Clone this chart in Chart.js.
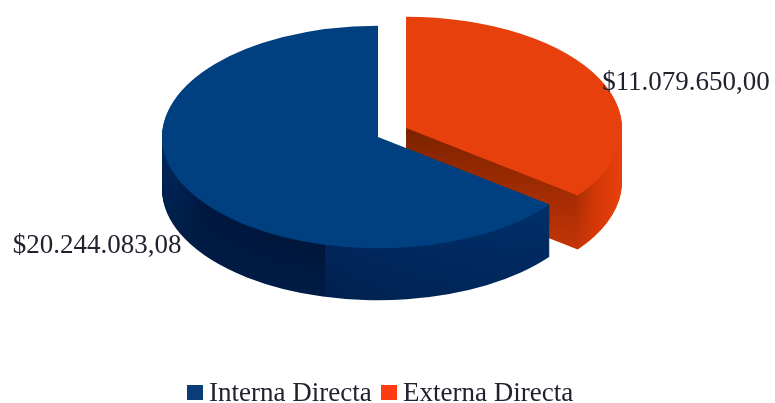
<!DOCTYPE html>
<html>
<head>
<meta charset="utf-8">
<script src="https://cdn.jsdelivr.net/npm/chart.js@4"></script>
<style>
  html, body { margin: 0; padding: 0; background: #fff; }
  canvas { display: block; }
</style>
</head>
<body>
<canvas id="pie-chart" width="775" height="403"></canvas>
<script>
const categories = ['Interna Directa', 'Externa Directa'];
const amounts = [20244083.08, 11079650.00];
const topColors = ['#004080', '#e8400c'];
const legendColors = ['#0a3d78', '#ff3b14'];

// 3d look: squash the pie and stack darker copies of each slice under it
const squash = 0.515;
const pieCenter = { x: 392, y: 132 };
const depth = [52, 54];
const explode = [{ x: -14, y: 5 }, { x: 14, y: -4 }];
const seamX = 325;
const textColor = '#20222e';

function formatMoney(value) {
    const [whole, cents] = value.toFixed(2).split('.');
    return '$' + whole.replace(/\B(?=(\d{3})+$)/g, '.') + ',' + cents;
}

function mix(a, b, t) {
    const pa = parseInt(a.slice(1), 16);
    const pb = parseInt(b.slice(1), 16);
    const out = [16, 8, 0].map((s) => {
        const ca = (pa >> s) & 255;
        const cb = (pb >> s) & 255;
        return Math.round(ca + (cb - ca) * t);
    });
    return `rgb(${out[0]},${out[1]},${out[2]})`;
}

// gradients are in chart x, so the screen x is shifted back by this amount
function sideFill(ctx, index, t, shiftX) {
    if (index === 0) {
        const seam = seamX - shiftX;
        const fill = ctx.createLinearGradient(seam - 170, 0, seam + 230, 0);
        const stop = 170 / 400;
        fill.addColorStop(0, mix('#002a62', '#00204c', t));
        fill.addColorStop(0.12, mix('#00183f', '#001b44', t));
        fill.addColorStop(stop, mix('#00163a', '#001c46', t));
        fill.addColorStop(stop, mix('#00255a', '#00214f', t));
        fill.addColorStop(1, mix('#002f68', '#002a60', t));
        return fill;
    }
    const fill = ctx.createLinearGradient(406 - shiftX, 0, 622 - shiftX, 0);
    fill.addColorStop(0, mix('#7a2200', '#9a2c02', t));
    fill.addColorStop(0.78, mix('#a32c02', '#c23406', t));
    fill.addColorStop(0.88, mix('#d23806', '#d63808', t));
    fill.addColorStop(1, '#e8400c');
    return fill;
}

const pie3dPlugin = {
    id: 'pie3d',
    afterDatasetsUpdate: function(chart) {
        const arcs = chart.getDatasetMeta(0).data;
        arcs.forEach((arc, i) => {
            arc.x += explode[i].x;
            arc.y += explode[i].y / squash;
        });
    },
    beforeDatasetsDraw: function(chart) {
        const ctx = chart.ctx;
        const arcs = chart.getDatasetMeta(0).data;
        const area = chart.chartArea;
        const shiftX = pieCenter.x - (area.left + area.right) / 2;
        ctx.save();
        ctx.translate(pieCenter.x, pieCenter.y);
        ctx.scale(1, squash);
        ctx.translate(-(area.left + area.right) / 2, -(area.top + area.bottom) / 2);

        // back slice first, the blue one sits in front of it
        [1, 0].forEach((index) => {
            const arc = arcs[index];
            const realOptions = arc.options;
            for (let d = depth[index]; d > 0; d--) {
                const options = Object.create(realOptions);
                options.backgroundColor = sideFill(ctx, index, d / depth[index], shiftX);
                options.borderWidth = 0;
                arc.options = options;
                ctx.save();
                ctx.translate(0, d / squash);
                arc.draw(ctx);
                ctx.restore();
            }
            arc.options = realOptions;
        });
    },
    afterDatasetsDraw: function(chart) {
        chart.ctx.restore();
    },
    afterDraw: function(chart) {
        const ctx = chart.ctx;
        ctx.save();
        ctx.font = '27px "Liberation Serif"';
        ctx.fillStyle = textColor;
        ctx.textAlign = 'center';
        ctx.textBaseline = 'middle';
        ctx.fillText(formatMoney(amounts[0]), 97, 246);
        ctx.fillText(formatMoney(amounts[1]), 686, 83);

        // legend
        const legendX = [187, 381];
        ctx.textAlign = 'left';
        categories.forEach((name, i) => {
            ctx.fillStyle = legendColors[i];
            ctx.fillRect(legendX[i], 385, 16, 15);
            ctx.fillStyle = textColor;
            ctx.fillText(name, legendX[i] + 22, 394);
        });
        ctx.restore();
    }
};

const total = amounts[0] + amounts[1];

new Chart(document.getElementById('pie-chart'), {
    type: 'pie',
    data: {
        labels: categories,
        datasets: [{
            data: amounts,
            backgroundColor: topColors,
            borderWidth: 0,
        }],
    },
    options: {
        responsive: false,
        animation: false,
        radius: 216,
        rotation: 360 * amounts[1] / total,
        plugins: {
            tooltip: { enabled: false },
            legend: { display: false },
        },
    },
    plugins: [pie3dPlugin],
});
</script>
</body>
</html>
